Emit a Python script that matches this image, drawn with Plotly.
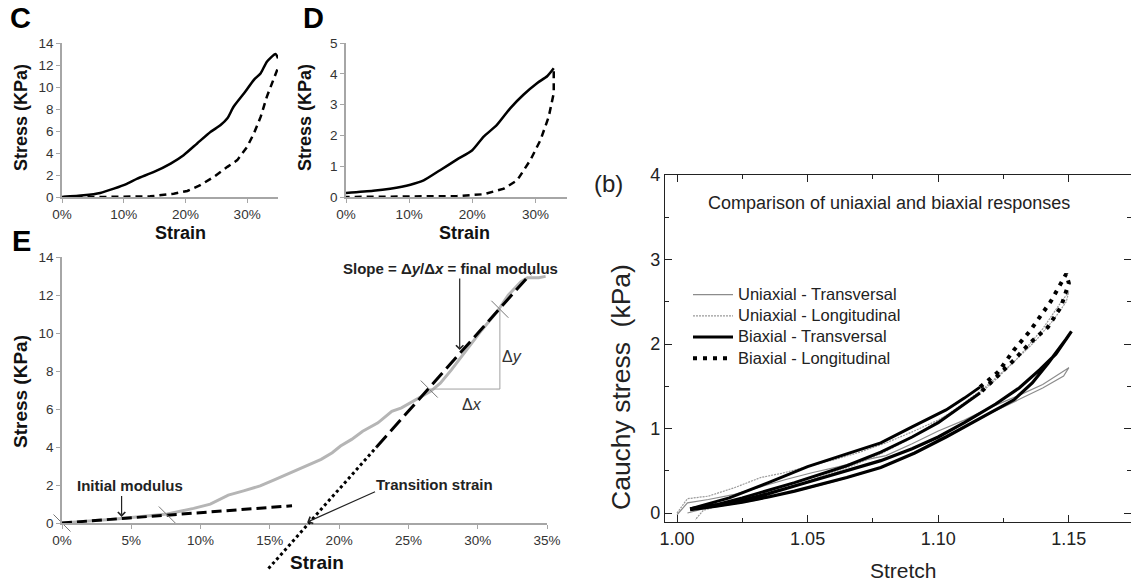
import plotly.graph_objects as go

# ---------------- data ----------------
# Panel C: loading (solid) and unloading (dashed)
c_load_strain = [0, 0.035, 0.062, 0.084, 0.105, 0.122, 0.149, 0.176, 0.197, 0.219, 0.241,
                 0.257, 0.268, 0.278, 0.295, 0.311, 0.322, 0.332, 0.346, 0.350]
c_load_stress = [0, 0.15, 0.37, 0.76, 1.2, 1.67, 2.28, 3.04, 3.8, 4.87, 5.93,
                 6.54, 7.15, 8.2, 9.43, 10.65, 11.26, 12.3, 13.0, 12.6]
c_unload_strain = [0.349, 0.332, 0.322, 0.311, 0.300, 0.284, 0.268, 0.246, 0.224, 0.203,
                   0.181, 0.143, 0.062, 0.0]
c_unload_stress = [11.6, 9.13, 7.3, 5.78, 4.56, 3.35, 2.74, 1.83, 1.07, 0.55,
                   0.30, 0.06, 0.0, 0.0]

# Panel D
d_load_strain = [0, 0.043, 0.070, 0.102, 0.123, 0.149, 0.176, 0.200, 0.218, 0.239,
                 0.260, 0.281, 0.303, 0.319, 0.329]
d_load_stress = [0.13, 0.2, 0.27, 0.4, 0.54, 0.87, 1.22, 1.52, 1.96, 2.34,
                 2.88, 3.32, 3.7, 3.93, 4.18]
d_unload_strain = [0.329, 0.329, 0.321, 0.308, 0.292, 0.271, 0.250, 0.218, 0.176, 0.0]
d_unload_stress = [4.08, 3.37, 2.6, 1.85, 1.2, 0.54, 0.27, 0.09, 0.03, 0.0]

# Panel E: loading curve and modulus construction
e_strain = [0, 0.037, 0.076, 0.084, 0.095, 0.107, 0.115, 0.120, 0.131, 0.143, 0.154,
            0.165, 0.176, 0.187, 0.195, 0.201, 0.209, 0.217, 0.228, 0.234, 0.238,
            0.245, 0.253, 0.261, 0.266, 0.273, 0.281, 0.292, 0.303, 0.314, 0.322,
            0.331, 0.336, 0.344, 0.349]
e_stress = [0, 0.2, 0.47, 0.59, 0.77, 0.99, 1.26, 1.47, 1.69, 1.95, 2.30,
            2.65, 3.0, 3.35, 3.70, 4.05, 4.4, 4.83, 5.27, 5.62, 5.88,
            6.06, 6.40, 6.75, 6.93, 7.36, 8.06, 9.11, 10.16, 11.12, 11.99,
            12.69, 12.91, 12.91, 12.98]
init_mod_strain = [0.0, 0.166]
init_mod_stress = [0.0, 0.91]
final_mod_strain = [0.227, 0.338]
final_mod_stress = [4.0, 13.1]
extrap_strain = [0.149, 0.227]
extrap_stress = [-2.4, 4.0]
fit_mark_strain = [0.0, 0.076, 0.265, 0.316]
fit_mark_stress = [0.0, 0.42, 7.05, 11.25]
delta_strain = [0.265, 0.316, 0.316]
delta_stress = [7.05, 7.05, 11.25]

# Panel (b): stretch / Cauchy stress loops (loading then unloading)
ut_stretch = [1.000, 1.004, 1.012, 1.022, 1.032, 1.042, 1.052, 1.062, 1.072, 1.080, 1.090,
              1.100, 1.110, 1.120, 1.130, 1.140, 1.150,
              1.148, 1.140, 1.130, 1.120, 1.110, 1.100, 1.090, 1.080, 1.070, 1.060,
              1.050, 1.040, 1.030, 1.020, 1.010, 1.004]
ut_stress = [-0.02, 0.12, 0.16, 0.22, 0.31, 0.40, 0.48, 0.55, 0.63, 0.68, 0.82,
             0.97, 1.10, 1.25, 1.38, 1.52, 1.72,
             1.62, 1.48, 1.33, 1.18, 1.02, 0.87, 0.70, 0.56, 0.46, 0.37,
             0.29, 0.22, 0.15, 0.10, 0.05, 0.00]

ul_stretch = [1.000, 1.004, 1.012, 1.022, 1.032, 1.040, 1.050, 1.060, 1.070, 1.080, 1.090,
              1.100, 1.110, 1.120, 1.130, 1.140, 1.146, 1.150,
              1.149, 1.144, 1.137, 1.128, 1.118, 1.108, 1.098, 1.088, 1.078, 1.068,
              1.058, 1.048, 1.038, 1.028, 1.018, 1.010, 1.007]
ul_stress = [0.00, 0.17, 0.20, 0.30, 0.42, 0.47, 0.55, 0.63, 0.72, 0.83, 0.96,
             1.10, 1.28, 1.52, 1.82, 2.18, 2.45, 2.62,
             2.50, 2.28, 2.03, 1.76, 1.49, 1.26, 1.05, 0.86, 0.70, 0.57,
             0.46, 0.36, 0.27, 0.19, 0.11, 0.03, -0.08]

bt_stretch = [1.005, 1.015, 1.025, 1.035, 1.045, 1.055, 1.065, 1.078, 1.090, 1.100,
              1.110, 1.122, 1.131, 1.139, 1.145, 1.151,
              1.149, 1.142, 1.136, 1.129, 1.116, 1.103, 1.091, 1.078, 1.065, 1.055,
              1.045, 1.035, 1.025, 1.015, 1.005]
bt_stress = [0.04, 0.08, 0.15, 0.23, 0.32, 0.41, 0.50, 0.62, 0.76, 0.90,
             1.07, 1.29, 1.48, 1.70, 1.88, 2.15,
             2.06, 1.77, 1.54, 1.34, 1.12, 0.90, 0.71, 0.54, 0.42, 0.34,
             0.26, 0.19, 0.13, 0.08, 0.04]

bl_stretch = [1.005, 1.020, 1.035, 1.050, 1.065, 1.078, 1.090, 1.103, 1.110, 1.116,
              1.123, 1.129, 1.135, 1.143, 1.149,
              1.150, 1.147, 1.142, 1.135, 1.129, 1.121, 1.116, 1.108, 1.100, 1.090,
              1.078, 1.065, 1.055, 1.045, 1.035, 1.025, 1.015, 1.005]
bl_stress = [0.05, 0.18, 0.36, 0.55, 0.70, 0.83, 1.02, 1.22, 1.36, 1.49,
             1.67, 1.93, 2.15, 2.50, 2.83,
             2.72, 2.44, 2.20, 2.01, 1.81, 1.57, 1.42, 1.24, 1.07, 0.90,
             0.72, 0.56, 0.46, 0.36, 0.27, 0.18, 0.10, 0.05]
# the sparse (dotted-looking) stretch of the biaxial longitudinal record
BL_SPARSE_FROM, BL_SPARSE_TO = 9, 22

# ---------------- layout helpers ----------------
W, H = 1131, 583
FONT = "Arial, Liberation Sans, sans-serif"


def fx(p):
    return p / W


def fy(p):
    return 1 - p / H


def excel_axis(x0, x1, rng, **kw):
    d = dict(domain=[x0, x1], range=rng, showline=True, linecolor="#a6a6a6",
             linewidth=1.5, ticks="outside", ticklen=4, tickcolor="#a6a6a6",
             tickfont=dict(size=13.5, color="#333333", family=FONT),
             showgrid=False, zeroline=False, fixedrange=True, automargin=False)
    d.update(kw)
    return d


fig = go.Figure()

# Panel C
fig.add_trace(go.Scatter(x=c_load_strain, y=c_load_stress, mode="lines",
                         line=dict(color="black", width=2.5, shape="spline", smoothing=0.6),
                         xaxis="x", yaxis="y", showlegend=False))
fig.add_trace(go.Scatter(x=c_unload_strain, y=c_unload_stress, mode="lines",
                         line=dict(color="black", width=2.5, dash="7px,5px"),
                         xaxis="x", yaxis="y", showlegend=False))
# Panel D
fig.add_trace(go.Scatter(x=d_load_strain, y=d_load_stress, mode="lines",
                         line=dict(color="black", width=2.5, shape="spline", smoothing=0.6),
                         xaxis="x2", yaxis="y2", showlegend=False))
fig.add_trace(go.Scatter(x=d_unload_strain, y=d_unload_stress, mode="lines",
                         line=dict(color="black", width=2.5, dash="7px,5px"),
                         xaxis="x2", yaxis="y2", showlegend=False))
# Panel E
fig.add_trace(go.Scatter(x=e_strain, y=e_stress, mode="lines",
                         line=dict(color="#b5b5b5", width=3), xaxis="x3", yaxis="y3",
                         showlegend=False))
fig.add_trace(go.Scatter(x=delta_strain, y=delta_stress, mode="lines",
                         line=dict(color="#a0a0a0", width=1), xaxis="x3", yaxis="y3",
                         showlegend=False))
fig.add_trace(go.Scatter(x=init_mod_strain, y=init_mod_stress, mode="lines",
                         line=dict(color="black", width=3, dash="10px,5px"),
                         xaxis="x3", yaxis="y3", showlegend=False))
fig.add_trace(go.Scatter(x=final_mod_strain, y=final_mod_stress, mode="lines",
                         line=dict(color="black", width=3, dash="15px,6px"),
                         xaxis="x3", yaxis="y3", showlegend=False))
fig.add_trace(go.Scatter(x=fit_mark_strain, y=fit_mark_stress, mode="markers",
                         marker=dict(symbol="line-nw", size=17,
                                     line=dict(color="#777777", width=1)),
                         cliponaxis=False, xaxis="x3", yaxis="y3", showlegend=False))
# extrapolation below the strain axis, on an axis pair extended downward
fig.add_trace(go.Scatter(x=extrap_strain, y=extrap_stress, mode="lines",
                         line=dict(color="black", width=3, dash="dot"),
                         xaxis="x5", yaxis="y5", showlegend=False))

# Panel (b)
LEG = "<span style='font-size:16.5px'>{}</span>"
fig.add_trace(go.Scatter(x=ut_stretch, y=ut_stress, mode="lines",
                         name=LEG.format("Uniaxial - Transversal"),
                         line=dict(color="#8c8c8c", width=1.2), xaxis="x4", yaxis="y4"))
fig.add_trace(go.Scatter(x=ul_stretch, y=ul_stress, mode="lines",
                         name=LEG.format("Uniaxial - Longitudinal"),
                         line=dict(color="#9a9a9a", width=1.2, dash="2px,1px"),
                         xaxis="x4", yaxis="y4"))
fig.add_trace(go.Scatter(x=bt_stretch, y=bt_stress, mode="lines",
                         name=LEG.format("Biaxial - Transversal"),
                         line=dict(color="black", width=3.2), xaxis="x4", yaxis="y4"))
fig.add_trace(go.Scatter(x=bl_stretch[:BL_SPARSE_FROM + 1] + [None] + bl_stretch[BL_SPARSE_TO - 1:],
                         y=bl_stress[:BL_SPARSE_FROM + 1] + [None] + bl_stress[BL_SPARSE_TO - 1:],
                         mode="lines", legendgroup="bl", showlegend=False,
                         line=dict(color="black", width=3), xaxis="x4", yaxis="y4"))
fig.add_trace(go.Scatter(x=bl_stretch[BL_SPARSE_FROM:BL_SPARSE_TO],
                         y=bl_stress[BL_SPARSE_FROM:BL_SPARSE_TO],
                         mode="lines", legendgroup="bl",
                         name=LEG.format("Biaxial - Longitudinal"),
                         line=dict(color="black", width=4, dash="4px,6px"),
                         xaxis="x4", yaxis="y4"))

b_axis_common = dict(showline=True, linecolor="#222222", linewidth=1.2, mirror="ticks",
                     ticks="inside", ticklen=7, tickcolor="#222222", showgrid=False,
                     zeroline=False, fixedrange=True, automargin=False,
                     tickfont=dict(size=18, color="#222222", family=FONT))

fig.update_layout(
    template="none",
    width=W, height=H, margin=dict(l=0, r=0, t=0, b=0, pad=0, autoexpand=False),
    paper_bgcolor="white", plot_bgcolor="rgba(0,0,0,0)",
    font=dict(family=FONT, color="black"),
    xaxis=excel_axis(fx(62), fx(278), [0, 0.35], tickvals=[0, 0.1, 0.2, 0.3],
                     tickformat=".0%", anchor="y"),
    yaxis=excel_axis(fy(197), fy(43), [0, 14], dtick=2, anchor="x"),
    xaxis2=excel_axis(fx(346), fx(567), [0, 0.35], tickvals=[0, 0.1, 0.2, 0.3],
                      tickformat=".0%", anchor="y2"),
    yaxis2=excel_axis(fy(197), fy(43), [0, 5], dtick=1, anchor="x2"),
    xaxis3=excel_axis(fx(62), fx(547), [0, 0.35], dtick=0.05, tickformat=".0%",
                      anchor="y3"),
    yaxis3=excel_axis(fy(523), fy(257), [0, 14], dtick=2, anchor="x3"),
    xaxis5=dict(domain=[fx(62), fx(547)], range=[0, 0.35], visible=False,
                anchor="y5", fixedrange=True),
    yaxis5=dict(domain=[fy(523 + 2.6 * 19), fy(257)], range=[-2.6, 14],
                visible=False, anchor="x5", fixedrange=True),
    xaxis4=dict(domain=[fx(665), 1.0], range=[0.9954, 1.1738], tick0=1.0, dtick=0.05,
                tickformat=".2f", anchor="y4",
                minor=dict(dtick=0.025, tick0=1.0, ticks="inside", ticklen=4,
                           tickcolor="#222222", showgrid=False),
                **b_axis_common),
    yaxis4=dict(domain=[fy(522), fy(175)], range=[-0.106, 4.0], tick0=0, dtick=1,
                anchor="x4",
                minor=dict(dtick=0.5, tick0=0, ticks="inside", ticklen=4,
                           tickcolor="#222222", showgrid=False),
                **b_axis_common),
    showlegend=True,
    legend=dict(x=fx(688), y=fy(279), xanchor="left", yanchor="top",
                bgcolor="rgba(0,0,0,0)", itemwidth=40, tracegroupgap=0,
                font=dict(size=14, color="#222222", family=FONT)),
)

ann = []


def label(text, x, y, size, bold=False, angle=0, color="black", xanchor="center"):
    ann.append(dict(text=f"<b>{text}</b>" if bold else text, x=fx(x), y=fy(y),
                    xref="paper", yref="paper", showarrow=False, textangle=angle,
                    xanchor=xanchor, yanchor="middle",
                    font=dict(size=size, color=color, family=FONT)))


# panel letters
label("C", 20, 18, 29, bold=True)
label("D", 314, 18, 29, bold=True)
label("E", 21, 241, 29, bold=True)
label("(b)", 608, 183, 24, color="#222222")
# axis titles
label("Stress (KPa)", 21, 118, 18, bold=True, angle=-90, color="#111111")
label("Strain", 180, 233, 18, bold=True, color="#111111")
label("Stress (KPa)", 305, 118, 18, bold=True, angle=-90, color="#111111")
label("Strain", 464, 233, 18, bold=True, color="#111111")
label("Stress (KPa)", 20, 392, 19, bold=True, angle=-90, color="#111111")
label("Strain", 317, 562, 19, bold=True, color="#111111")
label("Stretch", 903, 570, 21, color="#222222")
label("Cauchy stress  (kPa)", 621, 387, 26.5, angle=-90, color="#222222")
label("Comparison of uniaxial and biaxial responses", 889, 203, 18, color="#222222")


# panel E text and arrows (data coordinates)
def note(text, x, y, size=15):
    ann.append(dict(text=f"<b>{text}</b>", x=x, y=y, xref="x3", yref="y3",
                    showarrow=False, font=dict(size=size, color="#222222", family=FONT)))


def arrow(x0, y0, x1, y1):
    ann.append(dict(text="", x=x1, y=y1, ax=x0, ay=y0, xref="x3", yref="y3",
                    axref="x3", ayref="y3", showarrow=True, arrowhead=4,
                    arrowsize=1.2, arrowwidth=1.2, arrowcolor="#222222"))


note("Slope = Δ<i>y</i>/Δ<i>x</i> = final modulus", 0.2807, 13.42)
arrow(0.287, 12.95, 0.287, 9.1)
note("Initial modulus", 0.049, 2.0)
arrow(0.043, 1.5, 0.043, 0.32)
note("Transition strain", 0.2685, 2.05)
arrow(0.227, 1.68, 0.177, 0.05)
ann.append(dict(text="Δ<i>y</i>", x=0.325, y=8.75, xref="x3", yref="y3", showarrow=False,
                font=dict(size=16, color="#333333", family=FONT)))
ann.append(dict(text="Δ<i>x</i>", x=0.296, y=6.25, xref="x3", yref="y3", showarrow=False,
                font=dict(size=16, color="#333333", family=FONT)))

fig.update_layout(annotations=ann)

fig.write_html("out.html")
